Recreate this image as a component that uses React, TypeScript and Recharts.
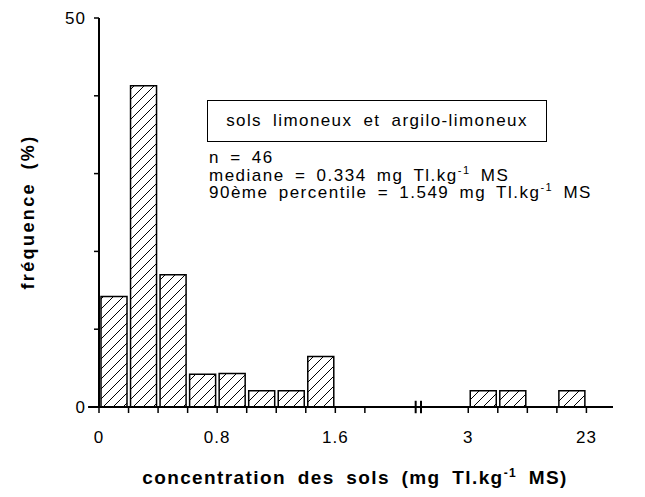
import { BarChart, Bar, XAxis, YAxis, ReferenceLine } from "recharts";

// histogram bins (axis is broken between 1.6 and 3)
const binLabels = ["0-0.2", "0.2-0.4", "0.4-0.6", "0.6-0.8", "0.8-1.0", "1.0-1.2", "1.2-1.4", "1.4-1.6", "3-a", "3-b", "23"];
const binPositions = [0.5, 1.5, 2.5, 3.5, 4.5, 5.5, 6.5, 7.5, 13, 14, 16];
const frequencies = [14.2, 41.3, 17.0, 4.2, 4.3, 2.1, 2.1, 6.5, 2.1, 2.1, 2.1];

const yTicks = [0, 10, 20, 30, 40, 50];
const xTicks = [0, 1, 2, 3, 4, 5, 6, 7, 8, 9, 12.5, 13.5, 14.5, 15.5, 16.5];
const xTickLabels: Record<number, string> = { 0: "0", 4: "0.8", 8: "1.6", 12.5: "3", 16.5: "23" };
const breakAt = [10.72, 10.9];

const data = binLabels.map((bin, i) => ({ bin, pos: binPositions[i], freq: frequencies[i] }));

const font = "'Liberation Sans', Arial, sans-serif";

function XTick(props: any) {
  const { x, y, payload } = props;
  const label = xTickLabels[payload.value];
  return (
    <g>
      <line x1={x} y1={y - 8} x2={x} y2={y - 2} stroke="#000" strokeWidth={1.5} />
      {label && (
        <text x={x} y={y + 28} textAnchor="middle" fontSize={17} letterSpacing={1} fontFamily={font} fill="#000">
          {label}
        </text>
      )}
    </g>
  );
}

export default function App() {
  return (
    <div style={{ position: "absolute", left: 0, top: 0, width: 645, height: 497, background: "#fff", fontFamily: font, color: "#000" }}>
      <svg width={0} height={0} style={{ position: "absolute" }}>
        <defs>
          <pattern id="hatch" patternUnits="userSpaceOnUse" width={10} height={10}>
            <rect width={10} height={10} fill="#fff" />
            <path d="M-1,1 l2,-2 M0,10 l10,-10 M9,11 l2,-2" stroke="#000" strokeWidth={1} />
          </pattern>
        </defs>
      </svg>
      <BarChart width={645} height={497} data={data} margin={{ top: 18, right: 32, left: 39, bottom: 60 }}>
        <XAxis
          dataKey="pos"
          type="number"
          domain={[0, 17.4]}
          ticks={xTicks}
          interval={0}
          height={30}
          axisLine={{ stroke: "#000", strokeWidth: 2 }}
          tickLine={false}
          tick={<XTick />}
          allowDataOverflow
        />
        <YAxis
          domain={[0, 50]}
          ticks={yTicks}
          width={60}
          axisLine={{ stroke: "#000", strokeWidth: 2 }}
          tickLine={{ stroke: "#000", strokeWidth: 1.5 }}
          tickSize={5}
          tickFormatter={(v: number) => (v === 0 || v === 50 ? String(v) : "")}
          tick={{ fontSize: 17, fill: "#000", fontFamily: font, dx: -6, letterSpacing: 1 }}
        />
        <ReferenceLine
          segment={[{ x: -0.37, y: 0 }, { x: 0, y: 0 }]}
          stroke="#000"
          strokeWidth={2}
          ifOverflow="visible"
        />
        {breakAt.map((b) => (
          <ReferenceLine
            key={b}
            segment={[{ x: b, y: -0.8 }, { x: b, y: 0.8 }]}
            stroke="#000"
            strokeWidth={2}
            ifOverflow="visible"
          />
        ))}
        <Bar dataKey="freq" fill="url(#hatch)" stroke="#000" strokeWidth={1.5} barSize={26} isAnimationActive={false} />
      </BarChart>

      <div style={{ position: "absolute", left: 207, top: 100, width: 340, height: 42, boxSizing: "border-box", border: "1.5px solid #000", display: "flex", alignItems: "center", justifyContent: "center", fontSize: 17, letterSpacing: 1.4, wordSpacing: 5, whiteSpace: "nowrap" }}>
        sols limoneux et argilo-limoneux
      </div>
      <div style={{ position: "absolute", left: 209, top: 149, fontSize: 17, lineHeight: "17.5px", letterSpacing: 1.5, wordSpacing: 4, whiteSpace: "nowrap" }}>
        <div>n = 46</div>
        <div>
          mediane = 0.334 mg Tl.kg<sup style={{ fontSize: 11, lineHeight: 0 }}>-1</sup> MS
        </div>
        <div>
          90ème percentile = 1.549 mg Tl.kg<sup style={{ fontSize: 11, lineHeight: 0 }}>-1</sup> MS
        </div>
      </div>
      <div style={{ position: "absolute", left: 355, top: 478, transform: "translate(-50%, -50%)", fontSize: 19, fontWeight: "bold", letterSpacing: 1.4, wordSpacing: 5, whiteSpace: "nowrap" }}>
        concentration des sols (mg Tl.kg<sup style={{ fontSize: 12, lineHeight: 0 }}>-1</sup> MS)
      </div>
      <div style={{ position: "absolute", left: 28, top: 212, transform: "translate(-50%, -50%) rotate(-90deg)", fontSize: 18, fontWeight: "bold", letterSpacing: 2.4, wordSpacing: 5, whiteSpace: "nowrap" }}>
        fréquence (%)
      </div>
    </div>
  );
}
